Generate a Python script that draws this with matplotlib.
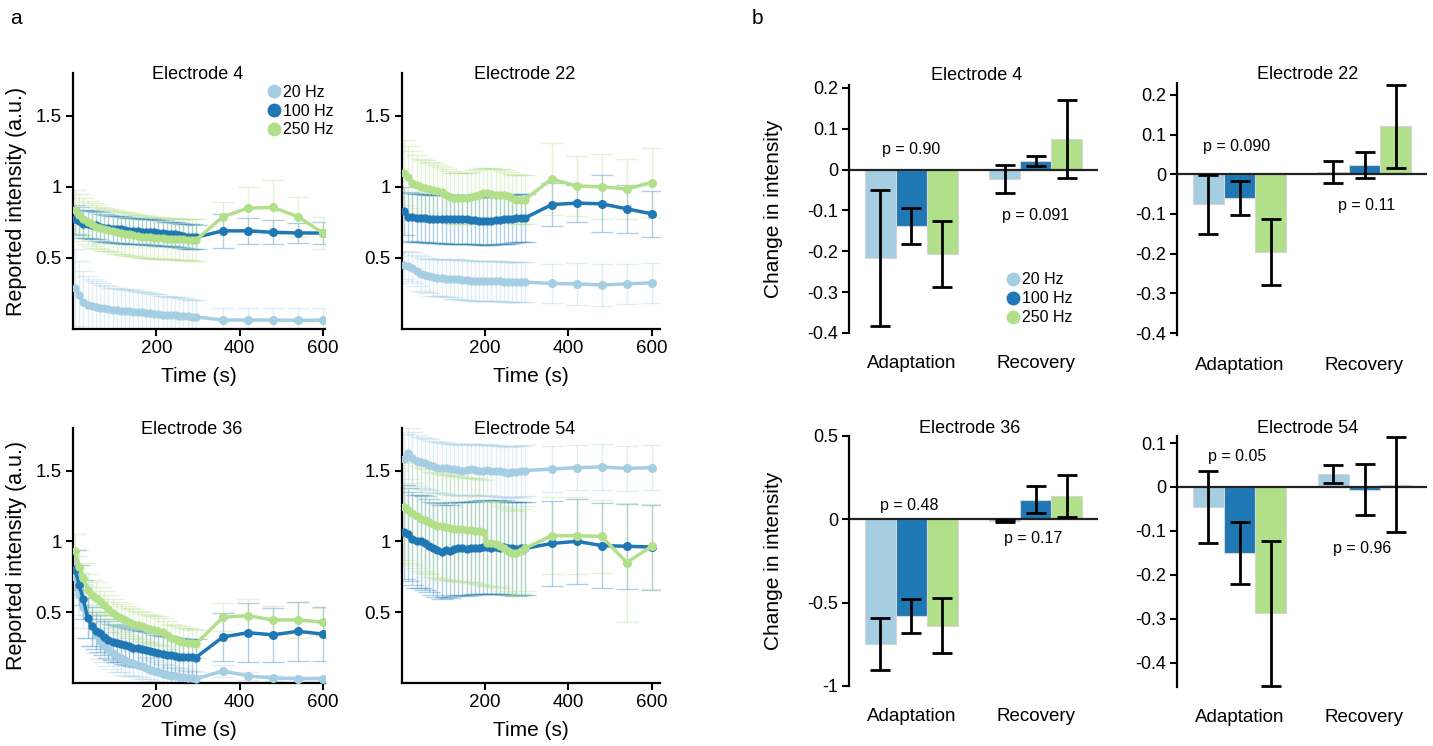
import matplotlib
matplotlib.use('Agg')
import matplotlib.pyplot as plt
from matplotlib.lines import Line2D
from matplotlib.ticker import FuncFormatter

plt.rcParams['font.family'] = ['Liberation Sans', 'DejaVu Sans']
plt.rcParams['axes.unicode_minus'] = False

# ---------------- data ----------------
freq_labels = ['20 Hz', '100 Hz', '250 Hz']
colors = ['#a6cee3', '#1f78b4', '#b2df8a']

t_dense = [5, 15, 25, 35, 45, 55, 65, 75, 85, 95, 105, 115, 125, 135, 145,
           155, 165, 175, 185, 195, 205, 215, 225, 235, 245, 255, 265, 275, 285, 295]
t_sparse = [360, 420, 480, 540, 600]

# Electrode 4
e4_20 = [0.29, 0.24, 0.19, 0.17, 0.16, 0.155, 0.15, 0.145, 0.14, 0.135, 0.133, 0.13, 0.128, 0.125, 0.122,
         0.12, 0.117, 0.113, 0.11, 0.107, 0.104, 0.1, 0.098, 0.097, 0.095, 0.093, 0.09, 0.088, 0.086, 0.085,
         0.063, 0.063, 0.063, 0.06, 0.063]
e4_20_err = [0.27, 0.24, 0.22, 0.2, 0.19, 0.18, 0.17, 0.165, 0.16, 0.155, 0.155, 0.15, 0.15, 0.15, 0.15,
             0.15, 0.145, 0.145, 0.14, 0.14, 0.14, 0.135, 0.135, 0.13, 0.13, 0.13, 0.125, 0.125, 0.12, 0.12,
             0.085, 0.085, 0.085, 0.085, 0.085]
e4_100 = [0.77, 0.76, 0.74, 0.74, 0.73, 0.73, 0.72, 0.71, 0.71, 0.70, 0.70, 0.70, 0.695, 0.69, 0.69,
          0.69, 0.685, 0.68, 0.68, 0.68, 0.675, 0.675, 0.67, 0.67, 0.665, 0.66, 0.655, 0.65, 0.65, 0.645,
          0.69, 0.69, 0.68, 0.675, 0.675]
e4_100_err = [0.1, 0.1, 0.1, 0.1, 0.1, 0.1, 0.1, 0.1, 0.095, 0.095, 0.095, 0.095, 0.095, 0.09, 0.09,
              0.09, 0.09, 0.09, 0.09, 0.09, 0.09, 0.09, 0.085, 0.085, 0.085, 0.085, 0.085, 0.085, 0.085, 0.085,
              0.12, 0.09, 0.085, 0.07, 0.075]
e4_250 = [0.84, 0.80, 0.77, 0.75, 0.735, 0.72, 0.71, 0.70, 0.695, 0.69, 0.68, 0.675, 0.67, 0.665, 0.66,
          0.655, 0.65, 0.648, 0.645, 0.64, 0.64, 0.638, 0.635, 0.635, 0.632, 0.63, 0.63, 0.628, 0.625, 0.625,
          0.79, 0.85, 0.855, 0.79, 0.675]
e4_250_err = [0.14, 0.15, 0.15, 0.15, 0.15, 0.15, 0.15, 0.15, 0.15, 0.15, 0.15, 0.15, 0.15, 0.15, 0.15,
              0.15, 0.15, 0.15, 0.145, 0.145, 0.145, 0.145, 0.145, 0.145, 0.145, 0.145, 0.145, 0.145, 0.145, 0.145,
              0.1, 0.15, 0.19, 0.14, 0.11]

# Electrode 22
e22_20 = [0.45, 0.44, 0.43, 0.41, 0.39, 0.38, 0.37, 0.365, 0.36, 0.36, 0.355, 0.355, 0.35, 0.35, 0.345,
          0.345, 0.34, 0.34, 0.34, 0.34, 0.335, 0.335, 0.335, 0.335, 0.333, 0.333, 0.333, 0.33, 0.33, 0.33,
          0.32, 0.317, 0.31, 0.317, 0.325]
e22_20_err = [0.1, 0.1, 0.11, 0.11, 0.12, 0.12, 0.12, 0.13, 0.13, 0.13, 0.13, 0.13, 0.14, 0.14, 0.14,
              0.14, 0.14, 0.14, 0.14, 0.14, 0.14, 0.14, 0.14, 0.14, 0.14, 0.14, 0.14, 0.14, 0.14, 0.14,
              0.14, 0.145, 0.15, 0.14, 0.14]
e22_100 = [0.83, 0.79, 0.785, 0.78, 0.78, 0.78, 0.775, 0.775, 0.775, 0.775, 0.77, 0.77, 0.77, 0.77, 0.77,
           0.77, 0.765, 0.765, 0.76, 0.76, 0.76, 0.76, 0.765, 0.765, 0.77, 0.77, 0.775, 0.78, 0.78, 0.78,
           0.875, 0.885, 0.88, 0.845, 0.81]
e22_100_err = [0.17, 0.17, 0.17, 0.17, 0.17, 0.17, 0.17, 0.17, 0.17, 0.17, 0.17, 0.17, 0.17, 0.17, 0.17,
               0.17, 0.17, 0.17, 0.17, 0.17, 0.17, 0.17, 0.17, 0.17, 0.17, 0.17, 0.17, 0.17, 0.17, 0.17,
               0.15, 0.13, 0.2, 0.17, 0.16]
e22_250 = [1.10, 1.07, 1.03, 1.01, 0.995, 0.99, 0.985, 0.98, 0.97, 0.96, 0.945, 0.93, 0.92, 0.92, 0.92,
           0.92, 0.925, 0.935, 0.945, 0.955, 0.955, 0.95, 0.945, 0.945, 0.94, 0.935, 0.92, 0.91, 0.91, 0.91,
           1.055, 1.005, 1.0, 0.985, 1.03]
e22_250_err = [0.23, 0.22, 0.22, 0.21, 0.2, 0.2, 0.19, 0.19, 0.18, 0.18, 0.18, 0.18, 0.18, 0.18, 0.18,
               0.18, 0.18, 0.18, 0.18, 0.18, 0.18, 0.18, 0.18, 0.18, 0.18, 0.17, 0.17, 0.17, 0.17, 0.17,
               0.25, 0.21, 0.23, 0.21, 0.24]

# Electrode 36
e36_20 = [0.75, 0.63, 0.54, 0.46, 0.40, 0.34, 0.30, 0.27, 0.24, 0.21, 0.19, 0.175, 0.16, 0.15, 0.14,
          0.13, 0.12, 0.105, 0.095, 0.085, 0.075, 0.065, 0.058, 0.052, 0.048, 0.045, 0.04, 0.035, 0.032, 0.03,
          0.085, 0.05, 0.035, 0.03, 0.03]
e36_20_err = [0.15, 0.15, 0.15, 0.14, 0.14, 0.13, 0.13, 0.12, 0.12, 0.11, 0.11, 0.1, 0.1, 0.1, 0.09,
              0.09, 0.09, 0.08, 0.08, 0.08, 0.07, 0.07, 0.07, 0.06, 0.06, 0.06, 0.05, 0.05, 0.05, 0.05,
              0.04, 0.03, 0.02, 0.02, 0.02]
e36_100 = [0.80, 0.69, 0.59, 0.46, 0.40, 0.37, 0.35, 0.325, 0.305, 0.29, 0.28, 0.275, 0.265, 0.258, 0.25,
           0.245, 0.24, 0.235, 0.228, 0.22, 0.21, 0.205, 0.2, 0.195, 0.19, 0.185, 0.183, 0.182, 0.181, 0.18,
           0.325, 0.355, 0.34, 0.365, 0.345]
e36_100_err = [0.14, 0.14, 0.14, 0.14, 0.14, 0.13, 0.13, 0.13, 0.13, 0.13, 0.13, 0.13, 0.13, 0.13, 0.13,
               0.13, 0.13, 0.13, 0.13, 0.13, 0.13, 0.13, 0.13, 0.13, 0.13, 0.13, 0.13, 0.13, 0.13, 0.13,
               0.17, 0.21, 0.19, 0.21, 0.19]
e36_250 = [0.93, 0.82, 0.74, 0.66, 0.62, 0.60, 0.58, 0.55, 0.52, 0.495, 0.475, 0.46, 0.445, 0.43, 0.42,
           0.41, 0.40, 0.39, 0.38, 0.375, 0.37, 0.36, 0.34, 0.32, 0.31, 0.30, 0.29, 0.285, 0.28, 0.275,
           0.465, 0.475, 0.445, 0.445, 0.43]
e36_250_err = [0.12, 0.12, 0.11, 0.11, 0.11, 0.11, 0.1, 0.1, 0.1, 0.1, 0.1, 0.1, 0.1, 0.1, 0.1,
               0.1, 0.1, 0.1, 0.1, 0.1, 0.1, 0.1, 0.1, 0.1, 0.1, 0.1, 0.1, 0.1, 0.1, 0.1,
               0.1, 0.12, 0.1, 0.13, 0.1]

# Electrode 54
e54_20 = [1.58, 1.62, 1.59, 1.57, 1.56, 1.55, 1.54, 1.53, 1.52, 1.52, 1.515, 1.51, 1.51, 1.505, 1.50,
          1.505, 1.51, 1.505, 1.50, 1.50, 1.505, 1.50, 1.50, 1.495, 1.49, 1.485, 1.49, 1.49, 1.495, 1.50,
          1.51, 1.52, 1.525, 1.515, 1.52]
e54_20_err = [0.18, 0.18, 0.18, 0.18, 0.18, 0.18, 0.18, 0.18, 0.18, 0.18, 0.18, 0.18, 0.18, 0.18, 0.18,
              0.18, 0.18, 0.18, 0.18, 0.18, 0.18, 0.18, 0.18, 0.18, 0.18, 0.18, 0.18, 0.18, 0.18, 0.18,
              0.16, 0.16, 0.16, 0.16, 0.16]
e54_100 = [1.065, 1.05, 1.02, 1.0, 1.0, 0.99, 0.97, 0.95, 0.94, 0.925, 0.94, 0.93, 0.945, 0.95, 0.95,
           0.945, 0.95, 0.955, 0.955, 0.96, 0.96, 0.955, 0.96, 0.955, 0.96, 0.95, 0.95, 0.945, 0.95, 0.95,
           0.985, 1.0, 0.97, 0.965, 0.96]
e54_100_err = [0.33, 0.33, 0.33, 0.33, 0.33, 0.33, 0.33, 0.33, 0.33, 0.33, 0.33, 0.33, 0.33, 0.33, 0.33,
               0.33, 0.33, 0.33, 0.33, 0.33, 0.33, 0.33, 0.33, 0.33, 0.33, 0.33, 0.33, 0.33, 0.33, 0.33,
               0.3, 0.3, 0.3, 0.3, 0.3]
e54_250 = [1.24, 1.22, 1.20, 1.18, 1.16, 1.15, 1.14, 1.12, 1.11, 1.105, 1.10, 1.095, 1.09, 1.09, 1.085,
           1.08, 1.08, 1.075, 1.07, 1.065, 0.985, 0.985, 0.98, 0.97, 0.95, 0.935, 0.92, 0.915, 0.93, 0.95,
           1.04, 1.04, 1.035, 0.85, 0.965]
e54_250_err = [0.37, 0.37, 0.37, 0.37, 0.37, 0.37, 0.37, 0.37, 0.37, 0.37, 0.37, 0.37, 0.37, 0.37, 0.37,
               0.37, 0.37, 0.37, 0.37, 0.37, 0.3, 0.3, 0.3, 0.3, 0.3, 0.3, 0.3, 0.3, 0.3, 0.3,
               0.27, 0.27, 0.26, 0.42, 0.3]

# Panel b: bar data (Adaptation, Recovery)
bar_groups = ['Adaptation', 'Recovery']
b_e4_20, b_e4_20_err = [-0.217, -0.023], [0.167, 0.034]
b_e4_100, b_e4_100_err = [-0.138, 0.021], [0.045, 0.012]
b_e4_250, b_e4_250_err = [-0.207, 0.075], [0.08, 0.096]
b_e22_20, b_e22_20_err = [-0.076, 0.005], [0.074, 0.028]
b_e22_100, b_e22_100_err = [-0.059, 0.023], [0.043, 0.032]
b_e22_250, b_e22_250_err = [-0.196, 0.121], [0.084, 0.105]
b_e36_20, b_e36_20_err = [-0.747, -0.008], [0.157, 0.006]
b_e36_100, b_e36_100_err = [-0.578, 0.117], [0.102, 0.082]
b_e36_250, b_e36_250_err = [-0.638, 0.139], [0.163, 0.127]
b_e54_20, b_e54_20_err = [-0.046, 0.03], [0.082, 0.02]
b_e54_100, b_e54_100_err = [-0.15, -0.006], [0.07, 0.058]
b_e54_250, b_e54_250_err = [-0.287, 0.005], [0.165, 0.108]

p_adapt = ['p = 0.90', 'p = 0.090', 'p = 0.48', 'p = 0.05']
p_recov = ['p = 0.091', 'p = 0.11', 'p = 0.17', 'p = 0.96']
electrodes = ['Electrode 4', 'Electrode 22', 'Electrode 36', 'Electrode 54']

# ---------------- figure ----------------
W, H = 1433, 746
fig = plt.figure(figsize=(W / 100, H / 100), dpi=100)


def frac(left, right, top, bottom):
    return [left / W, 1 - bottom / H, (right - left) / W, (bottom - top) / H]


fmt = FuncFormatter(lambda v, p: ('%g' % round(v, 3)))

times = t_dense + t_sparse
nd = len(t_dense)


def style_axes(ax):
    for s in ['top', 'right']:
        ax.spines[s].set_visible(False)
    for s in ['left', 'bottom']:
        ax.spines[s].set_linewidth(1.6)
    ax.tick_params(direction='out', length=5, width=1.5, labelsize=13.5, pad=3)


def line_panel(rect, series, title, xlim, tx, ylabel=False):
    ax = fig.add_axes(rect)
    for mean, err, c in series:
        ax.errorbar(times, mean, yerr=err, fmt='none', ecolor=c, alpha=0.35,
                    elinewidth=1.0, capsize=8, capthick=1.0, zorder=1)
    for mean, err, c in series:
        ax.plot(times, mean, color=c, lw=2.5, zorder=3)
        ax.plot(times[:nd], mean[:nd], 'o', color=c, ms=5, zorder=3)
        ax.plot(times[nd:], mean[nd:], 'o', color=c, ms=5.5, zorder=3)
    ax.set_xlim(*xlim)
    ax.set_ylim(0, 1.8)
    ax.set_xticks([200, 400, 600])
    ax.set_yticks([0.5, 1, 1.5])
    ax.yaxis.set_major_formatter(fmt)
    style_axes(ax)
    ax.set_xlabel('Time (s)', fontsize=15, labelpad=7)
    if ylabel:
        ax.set_ylabel('Reported intensity (a.u.)', fontsize=15.5)
        ax.yaxis.set_label_coords(-0.183, 0.5)
    ax.text(tx, 0.995, title, transform=ax.transAxes, ha='center', va='center', fontsize=13)
    return ax


ax1 = line_panel(frac(73, 325, 73, 329),
                 [(e4_20, e4_20_err, colors[0]), (e4_100, e4_100_err, colors[1]), (e4_250, e4_250_err, colors[2])],
                 electrodes[0], (0, 605), 0.496, ylabel=True)
ax2 = line_panel(frac(402, 660, 73, 329),
                 [(e22_20, e22_20_err, colors[0]), (e22_100, e22_100_err, colors[1]), (e22_250, e22_250_err, colors[2])],
                 electrodes[1], (0, 620), 0.477)
ax3 = line_panel(frac(73, 325, 428, 683),
                 [(e36_20, e36_20_err, colors[0]), (e36_100, e36_100_err, colors[1]), (e36_250, e36_250_err, colors[2])],
                 electrodes[2], (0, 605), 0.472, ylabel=True)
ax4 = line_panel(frac(402, 660, 428, 683),
                 [(e54_20, e54_20_err, colors[0]), (e54_100, e54_100_err, colors[1]), (e54_250, e54_250_err, colors[2])],
                 electrodes[3], (0, 620), 0.477)

handles = [Line2D([], [], marker='o', ls='none', color=c, ms=9) for c in colors]
ax1.legend(handles, freq_labels, loc='upper left', bbox_to_anchor=(0.74, 0.98), frameon=False,
           fontsize=11.5, handletextpad=0.1, labelspacing=0.25, borderaxespad=0, handlelength=1.0)


def bar_panel(rect, bars, ylim, yticks, title, tx, ty, ptexts, ylabel=False):
    ax = fig.add_axes(rect)
    w = 0.25
    offs = [-w, 0, w]
    xs = [1, 2]
    for (mean, err, c), o in zip(bars, offs):
        x = [xi + o for xi in xs]
        ax.bar(x, mean, width=w, color=c, edgecolor='#d5d5d5', linewidth=0.8, zorder=1)
        ax.errorbar(x, mean, yerr=err, fmt='none', ecolor='black', elinewidth=2,
                    capsize=7, capthick=2, zorder=3)
    ax.axhline(0, color='#222222', lw=1.6, zorder=2)
    ax.set_xlim(0.5, 2.5)
    ax.set_ylim(*ylim)
    ax.set_yticks(yticks)
    ax.yaxis.set_major_formatter(fmt)
    for s in ['top', 'right', 'bottom']:
        ax.spines[s].set_visible(False)
    ax.spines['left'].set_linewidth(1.6)
    ax.tick_params(axis='y', direction='out', length=5, width=1.5, labelsize=13, pad=3)
    ax.set_xticks(xs)
    ax.set_xticklabels(bar_groups)
    ax.tick_params(axis='x', length=0, labelsize=13.5, pad=16)
    if ylabel:
        ax.set_ylabel('Change in intensity', fontsize=15)
        ax.yaxis.set_label_coords(-0.265, 0.5)
    ax.text(tx, ty, title, transform=ax.transAxes, ha='center', va='center', fontsize=13)
    for (px, py, s) in ptexts:
        ax.text(px, py, s, ha='center', va='center', fontsize=11.5)
    return ax


bx1 = bar_panel(frac(849, 1098, 85, 333),
                [(b_e4_20, b_e4_20_err, colors[0]), (b_e4_100, b_e4_100_err, colors[1]), (b_e4_250, b_e4_250_err, colors[2])],
                (-0.4, 0.207), [-0.4, -0.3, -0.2, -0.1, 0, 0.1, 0.2], electrodes[0], 0.514, 1.04,
                [(1.0, 0.048, p_adapt[0]), (2.0, -0.113, p_recov[0])], ylabel=True)
bx2 = bar_panel(frac(1177, 1427, 83, 335),
                [(b_e22_20, b_e22_20_err, colors[0]), (b_e22_100, b_e22_100_err, colors[1]), (b_e22_250, b_e22_250_err, colors[2])],
                (-0.405, 0.23), [-0.4, -0.3, -0.2, -0.1, 0, 0.1, 0.2], electrodes[1], 0.524, 1.032,
                [(0.98, 0.07, p_adapt[1]), (2.02, -0.078, p_recov[1])])
bx3 = bar_panel(frac(849, 1098, 436, 686),
                [(b_e36_20, b_e36_20_err, colors[0]), (b_e36_100, b_e36_100_err, colors[1]), (b_e36_250, b_e36_250_err, colors[2])],
                (-1, 0.5), [-1, -0.5, 0, 0.5], electrodes[2], 0.486, 1.028,
                [(0.98, 0.084, p_adapt[2]), (1.98, -0.115, p_recov[2])], ylabel=True)
bx4 = bar_panel(frac(1177, 1427, 436, 687),
                [(b_e54_20, b_e54_20_err, colors[0]), (b_e54_100, b_e54_100_err, colors[1]), (b_e54_250, b_e54_250_err, colors[2])],
                (-0.455, 0.116), [-0.4, -0.3, -0.2, -0.1, 0, 0.1], electrodes[3], 0.524, 1.028,
                [(0.98, 0.07, p_adapt[3]), (1.98, -0.14, p_recov[3])])

bx1.legend(handles, freq_labels, loc='upper left', bbox_to_anchor=(0.6, 0.27), frameon=False,
           fontsize=11.5, handletextpad=0.1, labelspacing=0.25, borderaxespad=0, handlelength=1.0)

fig.text(16 / W, 1 - 18 / H, 'a', fontsize=15, ha='center', va='center')
fig.text(757 / W, 1 - 18 / H, 'b', fontsize=15, ha='center', va='center')

fig.savefig('out.png', dpi=100)
